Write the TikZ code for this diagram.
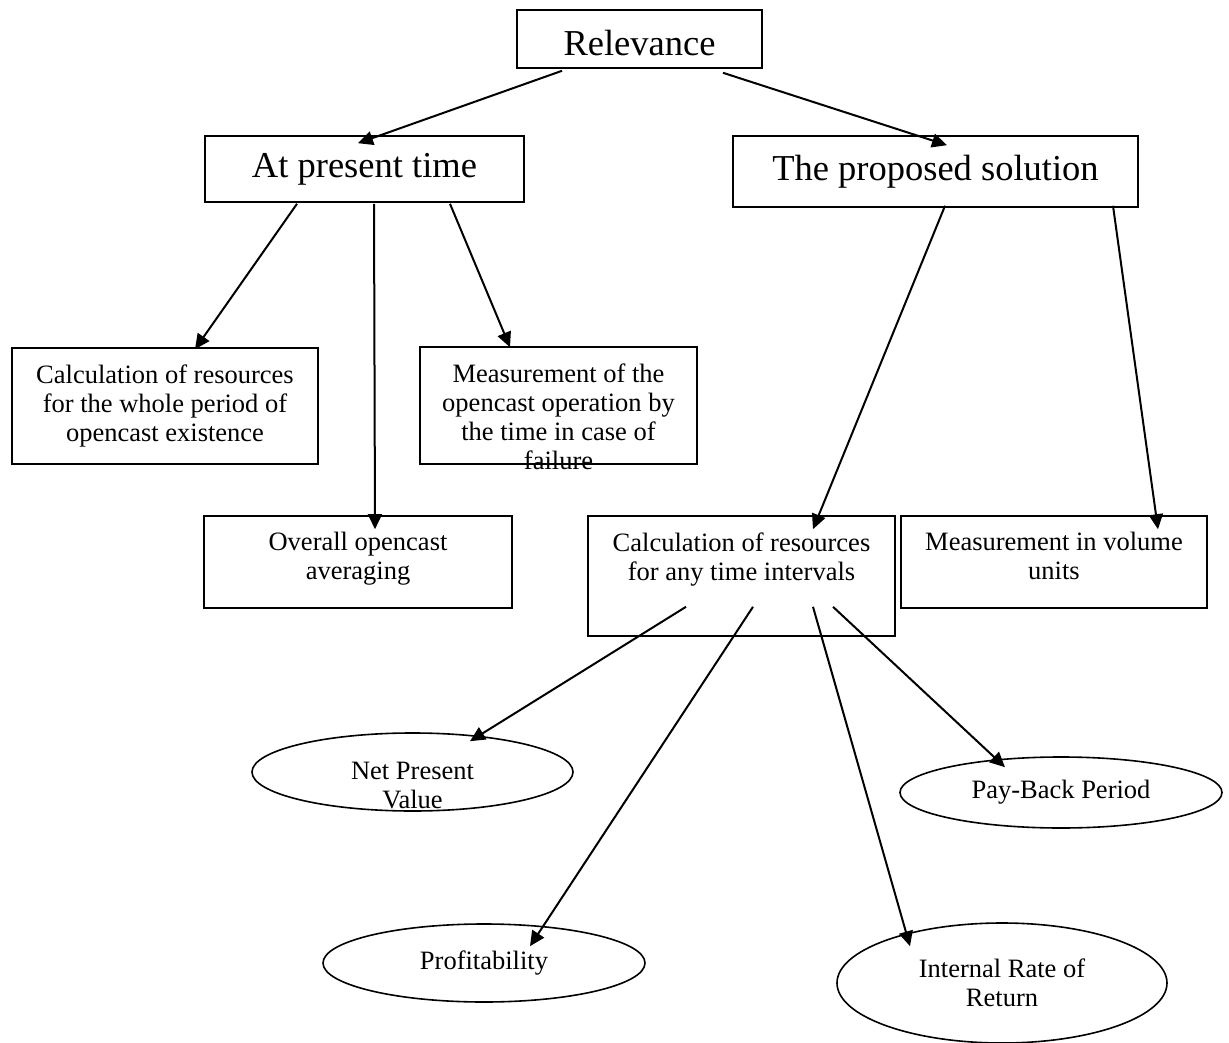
\documentclass[tikz,border=0pt]{standalone}
\usepackage{fontspec}
\setmainfont{Liberation Serif}
\usetikzlibrary{calc,positioning,arrows.meta,shapes.geometric}
\tikzstyle{box} = [draw, rectangle, line width=1.6pt, inner sep=0pt]
\tikzstyle{oval} = [draw, ellipse, line width=1.6pt, inner sep=0pt, align=center]
\tikzstyle{txt} = [inner sep=0pt, align=center]
\tikzstyle{big} = [font=\fontsize{36.5}{40}\selectfont]

\begin{document}
\begin{tikzpicture}[x=1pt, y=-1pt, >={Triangle[length=15pt,width=14pt]},
    every node/.style={font=\fontsize{26.5}{29}\selectfont}]
  \useasboundingbox (0,0) rectangle (1229,1043);

  % top
  \node (relev) [box, big, minimum width=245, minimum height=58, text height=34pt] at (639.5,39) {Relevance};
  \node (now) [box, big, minimum width=319, minimum height=66] at (364.5,169) {At present time};
  \node (prop) [box, big, minimum width=405, minimum height=71] at (935.5,171.5) {The proposed solution};

  % middle boxes
  \node (calcall) [box, minimum width=306, minimum height=116] at (165,406) {};
  \node (measure) [box, minimum width=277, minimum height=117] at (558.5,405.5) {};
  \node (overall) [box, minimum width=308, minimum height=92] at (358,562) {};
  \node (calcany) [box, minimum width=307, minimum height=120] at (741.5,576) {};
  \node (volume) [box, minimum width=306, minimum height=92] at (1054,562) {};

  \node (calcalltxt) [txt, below=17pt of calcall.north] {Calculation of resources\\for the whole period of\\opencast existence};
  \node (measuretxt) [txt, below=17pt of measure.north] {Measurement of the\\opencast operation by\\the time in case of\\failure};
  \node (overalltxt) [txt, below=17pt of overall.north] {Overall opencast\\averaging};
  \node (calcanytxt) [txt, below=17pt of calcany.north] {Calculation of resources\\for any time intervals};
  \node (volumetxt) [txt, below=17pt of volume.north] {Measurement in volume\\units};

  % ovals
  \node (npv) [oval, minimum width=321, minimum height=78] at (412.5,772) {};
  \node (pb) [oval, minimum width=322, minimum height=71] at (1061,792.5) {Pay-Back Period};
  \node (prof) [oval, minimum width=322, minimum height=78] at (484,963) {Profitability};
  \node (irr) [oval, minimum width=330, minimum height=120] at (1002,983) {Internal Rate of\\Return};

  \begin{scope}
    \clip (npv.west |- npv.north) rectangle ($(npv.east |- npv.south)+(0,-3)$);
    \node (npvtxt) [txt, below=29.5pt of npv.north] {Net Present\\Value};
  \end{scope}

  % arrows
  \begin{scope}[line width=2pt]
    \draw[->] ([shift={(-77.5,2)}]relev.south) -- ([shift={(-6.5,8)}]now.north);
    \draw[->] ([shift={(83.5,4)}]relev.south) -- ([shift={(11.5,10)}]prop.north);

    \draw[->] ([shift={(-67.5,1)}]now.south) -- ([shift={(30,2)}]calcall.north);
    \draw[->] ([shift={(9.5,1)}]now.south) -- ([shift={(17,14)}]overall.north);
    \draw[->] ([shift={(85.5,1)}]now.south) -- ([shift={(-48.5,1)}]measure.north);

    \draw[->] ([shift={(9.5,-2)}]prop.south) -- ([shift={(71.5,14)}]calcany.north);
    \draw[->] ([shift={(177.5,-2)}]prop.south) -- ([shift={(104,14)}]volume.north);

    \draw[->] ([shift={(-55.5,-30)}]calcany.south) -- ([shift={(57.5,9)}]npv.north);
    \draw[->] ([shift={(11.5,-30)}]calcany.south) -- ([shift={(46,23)}]prof.north);
    \draw[->] ([shift={(71.5,-30)}]calcany.south) -- ([shift={(-92,24)}]irr.north);
    \draw[->] ([shift={(91.5,-30)}]calcany.south) -- ([shift={(-56,11)}]pb.north);
  \end{scope}
\end{tikzpicture}
\end{document}
